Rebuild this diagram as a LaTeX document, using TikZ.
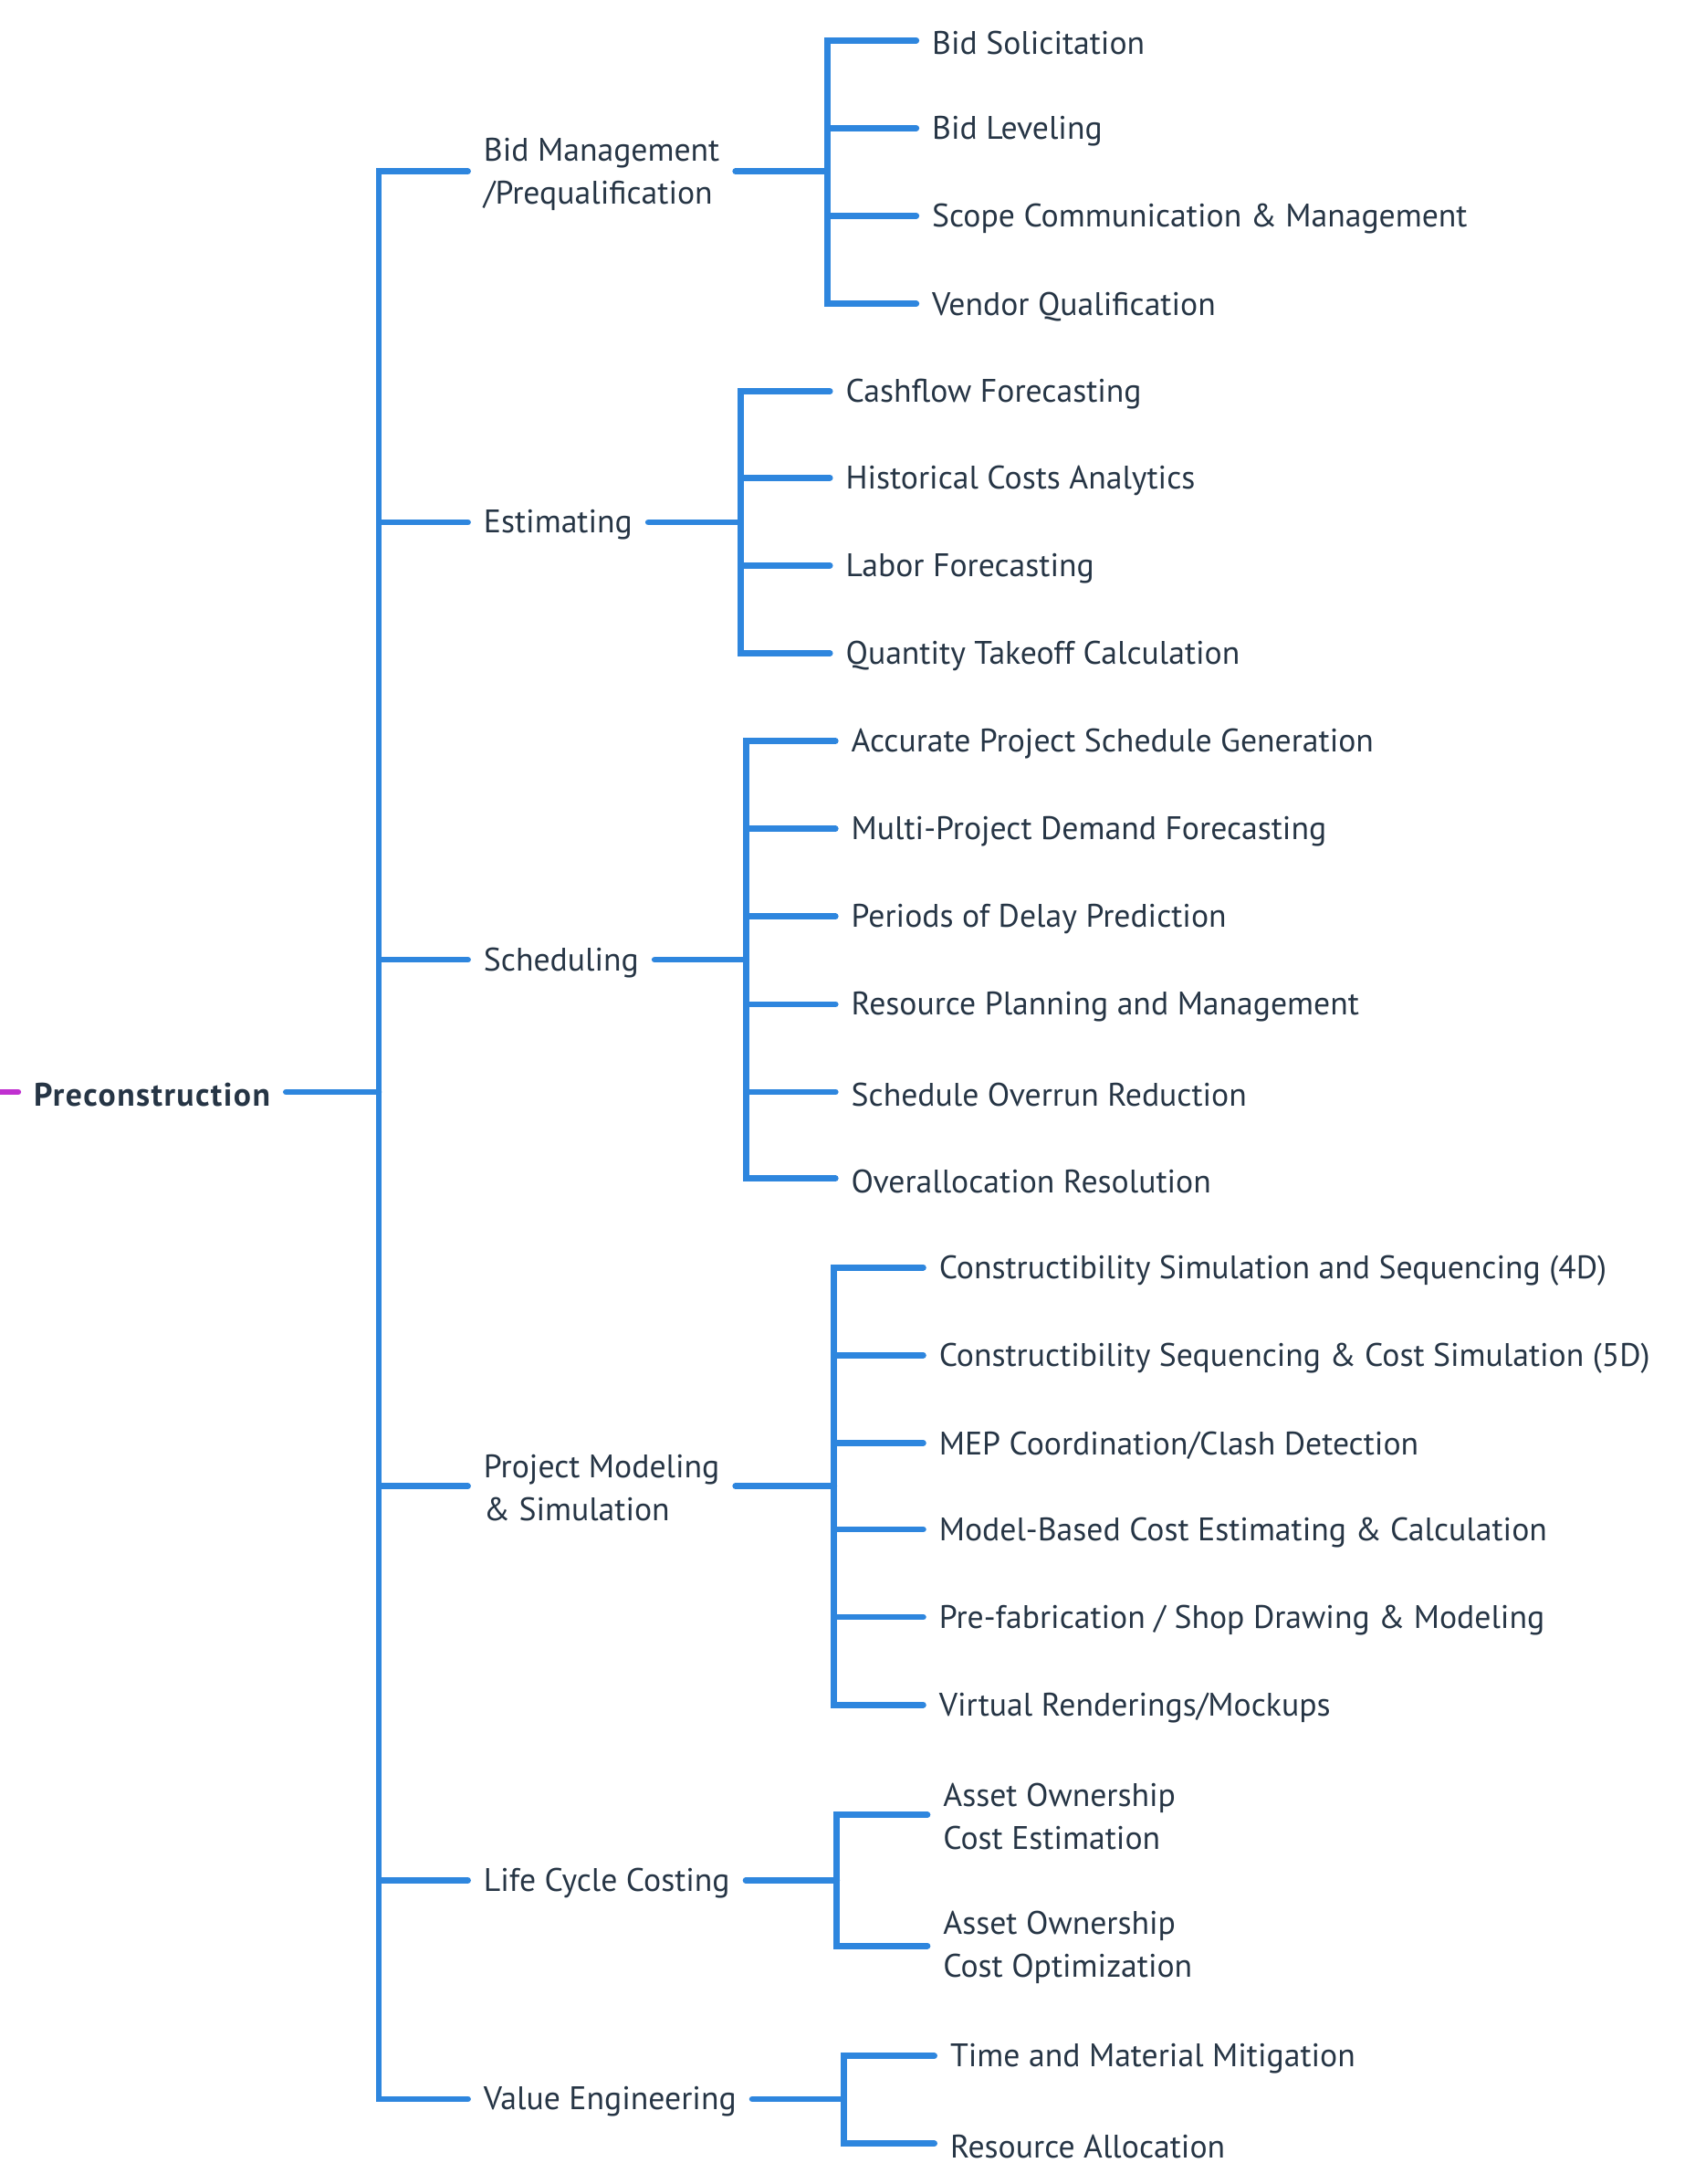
\documentclass[tikz,border=0pt]{standalone}
\usepackage{fontspec}
\setmainfont{PT Sans}
\newfontfamily\rootfont[LetterSpace=4]{PT Sans}
\usetikzlibrary{calc}
\definecolor{branchblue}{RGB}{46,134,222}
\definecolor{inkgray}{RGB}{38,53,69}
\definecolor{rootpink}{RGB}{192,48,208}

\begin{document}
\begin{tikzpicture}[x=0.5pt,y=-0.5pt,
    topic/.style={anchor=west,inner xsep=5.5pt,inner ysep=0pt,text=inkgray,
        align=left,font=\fontsize{11.7}{15.5}\selectfont},
    branch/.style={draw=branchblue,line width=2.2pt,line cap=round}]
    \useasboundingbox (0,0) rectangle (1210,1568);
    % Root topic with the stub from its parent
    \coordinate (up) at (-30,784);
    \node[topic,font=\rootfont\bfseries\fontsize{11.7}{15.5}\selectfont] (pre) at (13,786) {Preconstruction};
    \draw[branch,draw=rootpink] (up) -- (pre.west |- up);
    % Main branches
    \foreach \n/\y/\txt in {bid/125/{Bid Management\\/Prequalification},
        est/377/{Estimating}, sch/691/{Scheduling},
        mod/1068/{Project Modeling\\\& Simulation},
        lcc/1352/{Life Cycle Costing}, val/1509/{Value Engineering}}
        \node[topic] (\n) at (336,\y) {\txt};
    \coordinate (pre_bus) at (272,784);
    \draw[branch] (pre.east |- pre_bus) -- (pre_bus);
    \foreach \n in {bid,est,sch,lcc,val}
        \draw[branch] (pre_bus) |- ([yshift=1pt]\n.west);
    \draw[branch] (pre_bus) |- ([yshift=0.5pt]mod.west);
    % Bid management
    \foreach \i/\y/\txt in {1/31/{Bid Solicitation}, 2/94/{Bid Leveling},
        3/157/{Scope Communication \& Management}, 4/220/{Vendor Qualification}}
        \node[topic] (bid_\i) at (658,\y) {\txt};
    \coordinate (bid_bus) at (594,123);
    \draw[branch] (bid.east |- bid_bus) -- (bid_bus);
    \foreach \i in {1,...,4}
        \draw[branch] (bid_bus) |- ([yshift=1pt]bid_\i.west);
    % Estimating
    \foreach \i/\y/\txt in {1/283/{Cashflow Forecasting}, 2/345/{Historical Costs Analytics},
        3/408/{Labor Forecasting}, 4/471/{Quantity Takeoff Calculation}}
        \node[topic] (est_\i) at (596,\y) {\txt};
    \coordinate (est_bus) at (532,375);
    \draw[branch] (est.east |- est_bus) -- (est_bus);
    \foreach \i in {1,...,4}
        \draw[branch] (est_bus) |- ([yshift=1pt]est_\i.west);
    % Scheduling
    \foreach \i/\y/\txt in {1/534/{Accurate Project Schedule Generation},
        2/597/{Multi-Project Demand Forecasting}, 3/660/{Periods of Delay Prediction},
        4/723/{Resource Planning and Management}, 5/786/{Schedule Overrun Reduction},
        6/848/{Overallocation Resolution}}
        \node[topic] (sch_\i) at (600,\y) {\txt};
    \coordinate (sch_bus) at (536,689);
    \draw[branch] (sch.east |- sch_bus) -- (sch_bus);
    \foreach \i in {1,...,6}
        \draw[branch] (sch_bus) |- ([yshift=1pt]sch_\i.west);
    % Project modeling
    \foreach \i/\y/\txt in {1/912/{Constructibility Simulation and Sequencing (4D)},
        2/975/{Constructibility Sequencing \& Cost Simulation (5D)},
        3/1038/{MEP Coordination/Clash Detection},
        4/1100/{Model-Based Cost Estimating \& Calculation},
        5/1163/{Pre-fabrication / Shop Drawing \& Modeling},
        6/1226/{Virtual Renderings/Mockups}}
        \node[topic] (mod_\i) at (663,\y) {\txt};
    \coordinate (mod_bus) at (599,1067);
    \draw[branch] (mod.east |- mod_bus) -- (mod_bus);
    \foreach \i in {1,...,6}
        \draw[branch] (mod_bus) |- ([yshift=1pt]mod_\i.west);
    % Life cycle costing
    \foreach \i/\y/\txt in {1/1304/{Asset Ownership\\Cost Estimation},
        2/1398/{Asset Ownership\\Cost Optimization}}
        \node[topic] (lcc_\i) at (666,\y) {\txt};
    \coordinate (lcc_bus) at (601,1350);
    \draw[branch] (lcc.east |- lcc_bus) -- (lcc_bus);
    \foreach \i in {1,2}
        \draw[branch] (lcc_bus) |- ([yshift=0.5pt]lcc_\i.west);
    % Value engineering
    \foreach \i/\y/\txt in {1/1478/{Time and Material Mitigation},
        2/1541/{Resource Allocation}}
        \node[topic] (val_\i) at (671,\y) {\txt};
    \coordinate (val_bus) at (606,1507);
    \draw[branch] (val.east |- val_bus) -- (val_bus);
    \foreach \i in {1,2}
        \draw[branch] (val_bus) |- ([yshift=1pt]val_\i.west);
\end{tikzpicture}
\end{document}
